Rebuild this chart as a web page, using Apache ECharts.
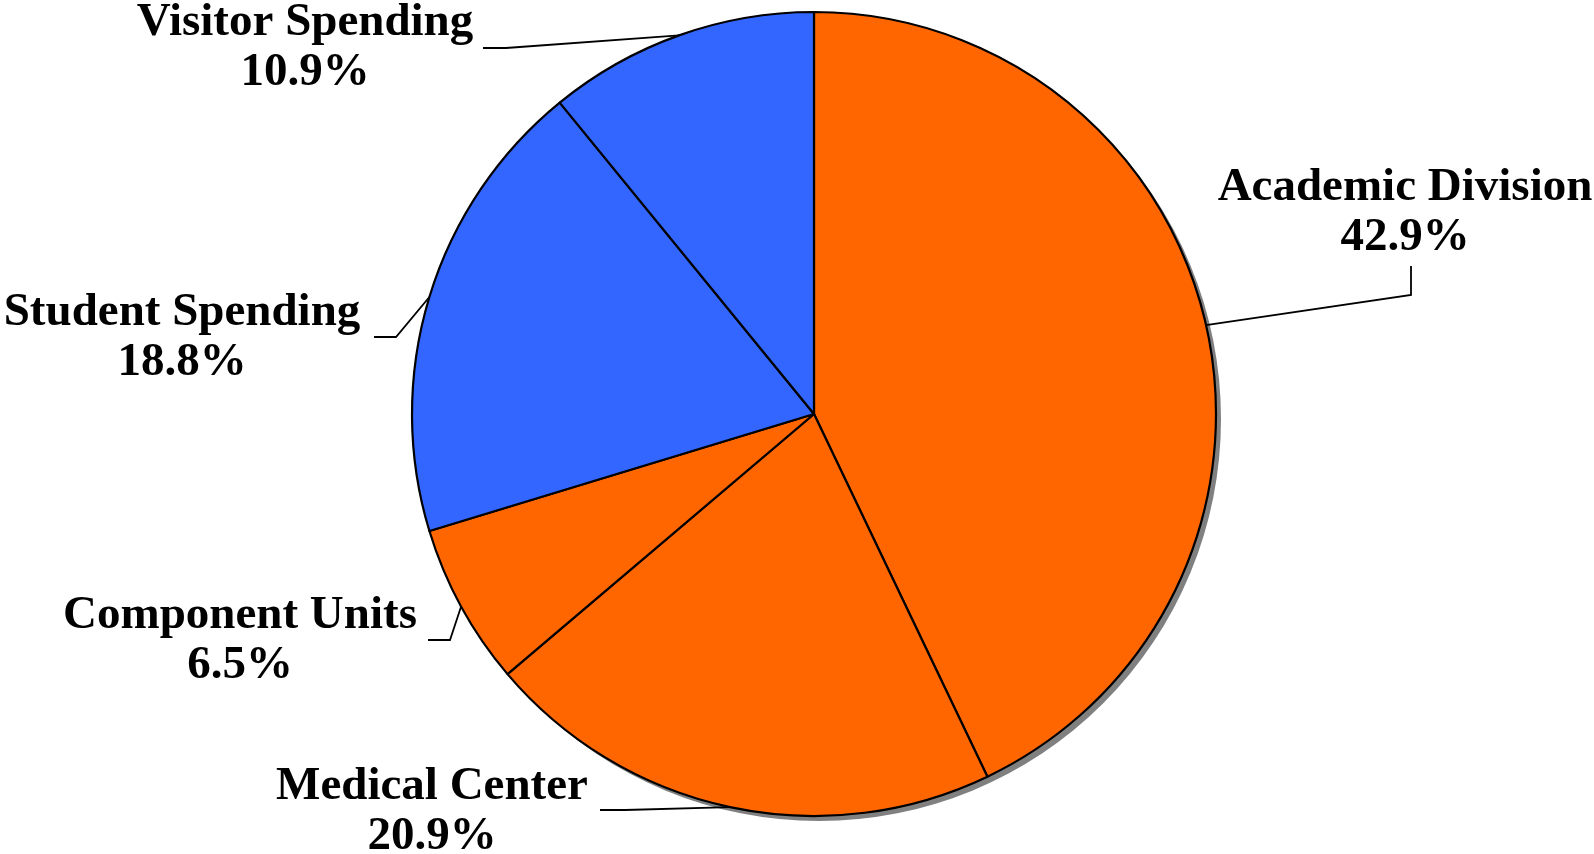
<!DOCTYPE html>
<html>
<head>
<meta charset="utf-8">
<script src="https://cdn.jsdelivr.net/npm/echarts@6/dist/echarts.min.js"></script>
<style>
html,body{margin:0;padding:0;background:#fff;}
#chart{width:1594px;height:854px;}
</style>
</head>
<body>
<div id="chart"></div>
<script>
const categories = ['Academic Division', 'Medical Center', 'Component Units', 'Student Spending', 'Visitor Spending'];
const shares = [42.9, 20.9, 6.5, 18.8, 10.9];
const colors = ['#FF6600', '#FF6600', '#FF6600', '#3366FF', '#3366FF'];

// label placement (layout only): text centre, elbow and end of leader line
const labelPlaces = [
  { x: 1405, y: 213, elbow: [1411, 295], end: [1411, 266] },
  { x: 432,  y: 812, elbow: [625, 810],  end: [600, 810] },
  { x: 240,  y: 641, elbow: [450, 640],  end: [428, 640] },
  { x: 182,  y: 338, elbow: [396, 337],  end: [374, 337] },
  { x: 305,  y: 48,  elbow: [506, 48],   end: [483, 48] }
];

const chart = echarts.init(document.getElementById('chart'), null, { renderer: 'canvas' });

const pieData = categories.map((c, i) => ({
  name: c,
  value: shares[i],
  itemStyle: { color: colors[i] }
}));

chart.setOption({
  backgroundColor: '#ffffff',
  animation: false,
  series: [
    {
      type: 'pie',
      silent: true,
      z: 1,
      center: [819, 419],
      radius: 402,
      label: { show: false },
      labelLine: { show: false },
      itemStyle: { color: '#808080', borderWidth: 0 },
      data: [{ value: 1, name: '' }]
    },
    {
      type: 'pie',
      z: 2,
      center: [814, 414],
      radius: 402,
      startAngle: 90,
      clockwise: true,
      itemStyle: { borderColor: '#000000', borderWidth: 2.2 },
      emphasis: { disabled: true },
      label: {
        show: true,
        position: 'outside',
        formatter: p => p.name + '\n' + p.value.toFixed(1) + '%',
        fontFamily: 'Liberation Serif',
        fontWeight: 'bold',
        fontSize: 47,
        lineHeight: 50,
        color: '#000000',
        align: 'center',
        overflow: 'none'
      },
      labelLine: {
        show: true,
        length: 20,
        length2: 20,
        lineStyle: { color: '#000000', width: 1.8 }
      },
      labelLayout: function (params) {
        const lp = labelPlaces[params.dataIndex];
        const anchor = params.labelLinePoints ? params.labelLinePoints[0] : lp.elbow;
        return {
          x: lp.x,
          y: lp.y,
          align: 'center',
          verticalAlign: 'middle',
          labelLinePoints: [anchor, lp.elbow, lp.end]
        };
      },
      data: pieData
    }
  ]
});
</script>
</body>
</html>
